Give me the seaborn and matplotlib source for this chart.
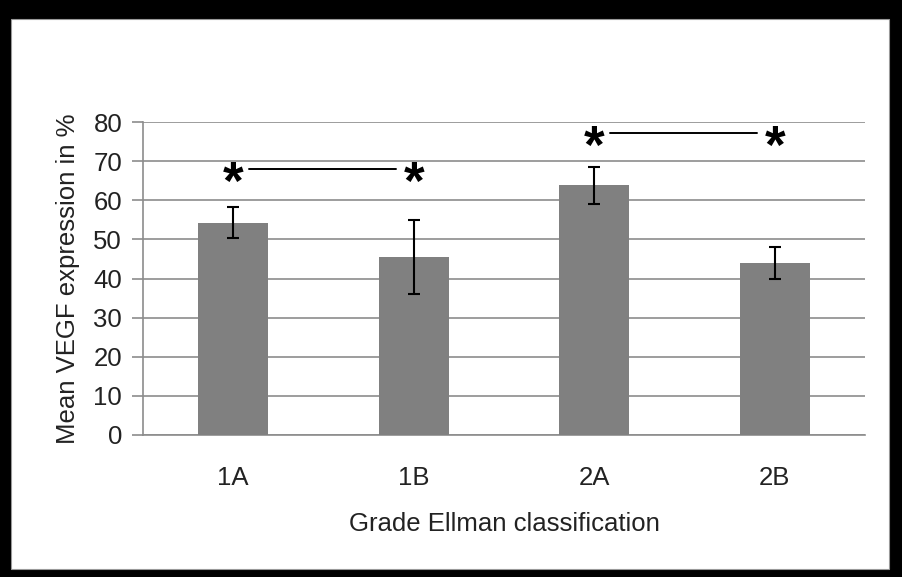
import matplotlib
matplotlib.use("Agg")
import matplotlib.pyplot as plt
import seaborn as sns
import pandas as pd
from matplotlib.patches import Rectangle

categories = ["1A", "1B", "2A", "2B"]
means = [54.3, 45.5, 63.8, 44.0]
errors = [4.0, 9.5, 4.8, 4.0]
yticks = [0, 10, 20, 30, 40, 50, 60, 70, 80]
sig_pairs = [(0, 1, 68.0), (2, 3, 77.2)]

sns.set_theme(style="white")
plt.rcParams['font.family'] = ['Liberation Sans', 'DejaVu Sans']

fig = plt.figure(figsize=(9.03, 5.77), dpi=100)
fig.patch.set_facecolor("black")
W, H = 903, 577
fig.patches.append(Rectangle((11 / W, 8 / H), (889 - 11) / W, (558 - 8) / H,
                             transform=fig.transFigure, facecolor="white",
                             edgecolor="#999999", linewidth=0.8, zorder=-10))

ax = fig.add_axes([143 / W, (577 - 435) / H, (865 - 143) / W, (435 - 122) / H])
ax.set_facecolor("none")

df = pd.DataFrame({"grade": categories, "mean": means})
sns.barplot(data=df, x="grade", y="mean", color="#808080", width=0.39,
            errorbar=None, ax=ax, saturation=1, zorder=3, linewidth=0)
ax.errorbar(range(len(categories)), means, yerr=errors, fmt="none",
            ecolor="black", elinewidth=1.5, capsize=4.5, capthick=1.5, zorder=4)

for i, j, y in sig_pairs:
    ax.text(i, y - 4.2, "*", ha="center", va="center", fontsize=38,
            fontweight="bold", color="black", zorder=5)
    ax.text(j, y - 4.2, "*", ha="center", va="center", fontsize=38,
            fontweight="bold", color="black", zorder=5)
    ax.plot([i + 0.09, j - 0.1], [y, y], color="black", lw=1.4, zorder=5)

ax.set_ylim(0, 80)
ax.set_xlim(-0.5, 3.5)
ax.set_yticks(yticks)
ax.yaxis.grid(True, color="#8c8c8c", linewidth=1.2, zorder=0)
ax.set_axisbelow(True)

for s in ["top", "right"]:
    ax.spines[s].set_visible(False)
for s in ["left", "bottom"]:
    ax.spines[s].set_color("#8c8c8c")
    ax.spines[s].set_linewidth(1.2)

ax.set_xticks(range(len(categories)))
ax.set_xticklabels(categories)
ax.set_xticks([-0.5, 0.5, 1.5, 2.5, 3.5], minor=True)
ax.tick_params(axis="x", which="major", length=0, pad=22, labelsize=18.5, colors="#222222")
ax.tick_params(axis="x", which="minor", length=7, width=1.2, color="#8c8c8c", direction="out")
ax.tick_params(axis="y", length=8, width=1.2, color="#8c8c8c", direction="out",
               left=True, labelsize=18.5, labelcolor="#222222", pad=7)

ax.set_xlabel("Grade Ellman classification", fontsize=18.5, color="#222222", labelpad=16)
ax.set_ylabel("Mean VEGF expression in %", fontsize=18.5, color="#222222", labelpad=10)

fig.savefig("out.png", dpi=100, facecolor=fig.get_facecolor())
